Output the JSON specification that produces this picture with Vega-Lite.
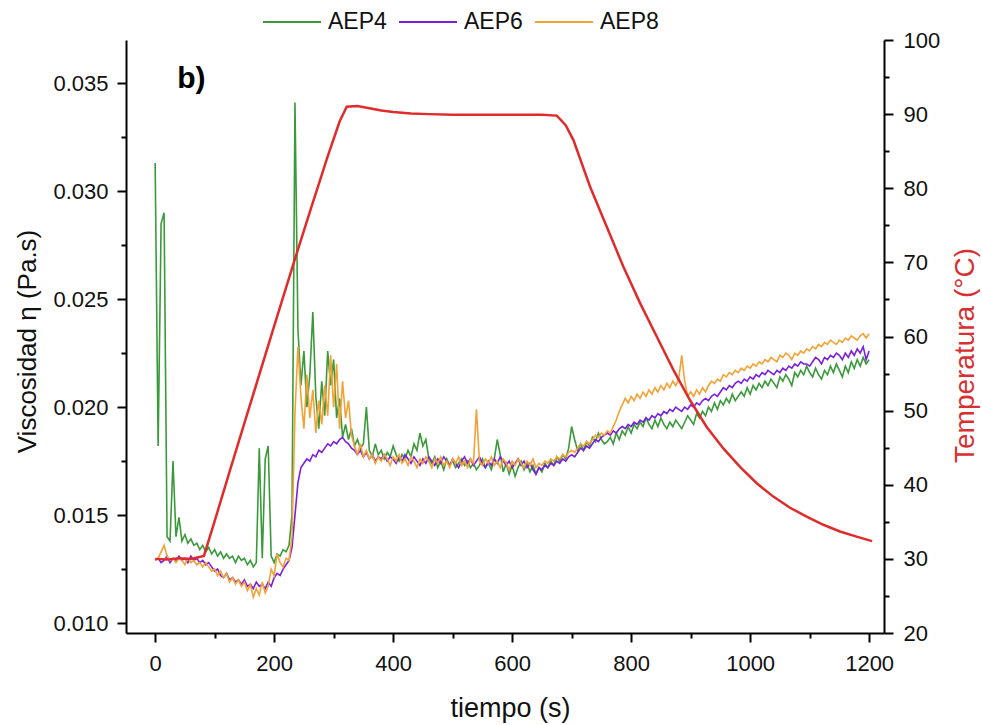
{
  "$schema": "https://vega.github.io/schema/vega-lite/v6.json",
  "width": 758,
  "height": 593,
  "autosize": {"type": "none"},
  "padding": {"left": 126, "top": 40, "right": 98, "bottom": 92},
  "background": "white",
  "config": {
    "font": "Liberation Sans",
    "view": {"stroke": null},
    "axis": {"domainColor": "#000", "domainWidth": 2, "tickColor": "#000", "tickWidth": 2, "labelColor": "#111", "labelFontSize": 22, "titleColor": "#111", "titleFontWeight": "normal", "grid": false, "labelOverlap": false}
  },
  "datasets": {
    "visc": [
      {"t":0,"AEP4":0.0313,"AEP6":0.0129,"AEP8":0.0129},
      {"t":5,"AEP4":0.0182,"AEP6":0.0130,"AEP8":0.0130},
      {"t":10,"AEP4":0.0285,"AEP6":0.0128,"AEP8":0.0133},
      {"t":15,"AEP4":0.0290,"AEP6":0.0129,"AEP8":0.0136},
      {"t":20,"AEP4":0.0140,"AEP6":0.0131,"AEP8":0.0131},
      {"t":25,"AEP4":0.0138,"AEP6":0.0128,"AEP8":0.0129},
      {"t":30,"AEP4":0.0175,"AEP6":0.0130,"AEP8":0.0130},
      {"t":35,"AEP4":0.0140,"AEP6":0.0129,"AEP8":0.0128},
      {"t":40,"AEP4":0.0149,"AEP6":0.0131,"AEP8":0.0130},
      {"t":45,"AEP4":0.0138,"AEP6":0.0129,"AEP8":0.0129},
      {"t":50,"AEP4":0.0141,"AEP6":0.0130,"AEP8":0.0127},
      {"t":55,"AEP4":0.0137,"AEP6":0.0128,"AEP8":0.0130},
      {"t":60,"AEP4":0.0139,"AEP6":0.0131,"AEP8":0.0128},
      {"t":65,"AEP4":0.0136,"AEP6":0.0129,"AEP8":0.0129},
      {"t":70,"AEP4":0.0137,"AEP6":0.0130,"AEP8":0.0127},
      {"t":75,"AEP4":0.0134,"AEP6":0.0128,"AEP8":0.0128},
      {"t":80,"AEP4":0.0136,"AEP6":0.0129,"AEP8":0.0126},
      {"t":85,"AEP4":0.0133,"AEP6":0.0127,"AEP8":0.0128},
      {"t":90,"AEP4":0.0135,"AEP6":0.0128,"AEP8":0.0126},
      {"t":95,"AEP4":0.0132,"AEP6":0.0126,"AEP8":0.0124},
      {"t":100,"AEP4":0.0134,"AEP6":0.0124,"AEP8":0.0125},
      {"t":105,"AEP4":0.0131,"AEP6":0.0125,"AEP8":0.0122},
      {"t":110,"AEP4":0.0133,"AEP6":0.0122,"AEP8":0.0124},
      {"t":115,"AEP4":0.0130,"AEP6":0.0121,"AEP8":0.0121},
      {"t":120,"AEP4":0.0132,"AEP6":0.0123,"AEP8":0.0123},
      {"t":125,"AEP4":0.0130,"AEP6":0.0120,"AEP8":0.0119},
      {"t":130,"AEP4":0.0131,"AEP6":0.0121,"AEP8":0.0121},
      {"t":135,"AEP4":0.0128,"AEP6":0.0119,"AEP8":0.0118},
      {"t":140,"AEP4":0.0131,"AEP6":0.0120,"AEP8":0.0120},
      {"t":145,"AEP4":0.0129,"AEP6":0.0118,"AEP8":0.0117},
      {"t":150,"AEP4":0.0130,"AEP6":0.0120,"AEP8":0.0119},
      {"t":155,"AEP4":0.0127,"AEP6":0.0117,"AEP8":0.0115},
      {"t":160,"AEP4":0.0129,"AEP6":0.0118,"AEP8":0.0118},
      {"t":165,"AEP4":0.0126,"AEP6":0.0116,"AEP8":0.0112},
      {"t":170,"AEP4":0.0128,"AEP6":0.0119,"AEP8":0.0116},
      {"t":175,"AEP4":0.0181,"AEP6":0.0117,"AEP8":0.0113},
      {"t":180,"AEP4":0.0130,"AEP6":0.0118,"AEP8":0.0119},
      {"t":185,"AEP4":0.0176,"AEP6":0.0116,"AEP8":0.0114},
      {"t":190,"AEP4":0.0182,"AEP6":0.0119,"AEP8":0.0117},
      {"t":195,"AEP4":0.0131,"AEP6":0.0117,"AEP8":0.0125},
      {"t":200,"AEP4":0.0128,"AEP6":0.0121,"AEP8":0.0122},
      {"t":205,"AEP4":0.0132,"AEP6":0.0123,"AEP8":0.0132},
      {"t":210,"AEP4":0.0131,"AEP6":0.0122,"AEP8":0.0128},
      {"t":215,"AEP4":0.0134,"AEP6":0.0125,"AEP8":0.0126},
      {"t":220,"AEP4":0.0133,"AEP6":0.0127,"AEP8":0.0130},
      {"t":225,"AEP4":0.0136,"AEP6":0.0129,"AEP8":0.0129},
      {"t":230,"AEP4":0.0150,"AEP6":0.0135,"AEP8":0.0140},
      {"t":235,"AEP4":0.0341,"AEP6":0.0150,"AEP8":0.0197},
      {"t":240,"AEP4":0.0236,"AEP6":0.0165,"AEP8":0.0228},
      {"t":245,"AEP4":0.0210,"AEP6":0.0172,"AEP8":0.0205},
      {"t":250,"AEP4":0.0226,"AEP6":0.0174,"AEP8":0.0190},
      {"t":255,"AEP4":0.0200,"AEP6":0.0176,"AEP8":0.0215},
      {"t":260,"AEP4":0.0215,"AEP6":0.0175,"AEP8":0.0195},
      {"t":265,"AEP4":0.0244,"AEP6":0.0178,"AEP8":0.0208},
      {"t":270,"AEP4":0.0205,"AEP6":0.0177,"AEP8":0.0188},
      {"t":275,"AEP4":0.0190,"AEP6":0.0180,"AEP8":0.0203},
      {"t":280,"AEP4":0.0212,"AEP6":0.0179,"AEP8":0.0192},
      {"t":285,"AEP4":0.0196,"AEP6":0.0181,"AEP8":0.0210},
      {"t":290,"AEP4":0.0226,"AEP6":0.0183,"AEP8":0.0196},
      {"t":295,"AEP4":0.0210,"AEP6":0.0182,"AEP8":0.0224},
      {"t":300,"AEP4":0.0222,"AEP6":0.0184,"AEP8":0.0200},
      {"t":305,"AEP4":0.0195,"AEP6":0.0183,"AEP8":0.0220},
      {"t":310,"AEP4":0.0204,"AEP6":0.0185,"AEP8":0.0190},
      {"t":315,"AEP4":0.0186,"AEP6":0.0186,"AEP8":0.0212},
      {"t":320,"AEP4":0.0192,"AEP6":0.0184,"AEP8":0.0195},
      {"t":325,"AEP4":0.0185,"AEP6":0.0183,"AEP8":0.0203},
      {"t":330,"AEP4":0.0190,"AEP6":0.0181,"AEP8":0.0187},
      {"t":335,"AEP4":0.0182,"AEP6":0.0180,"AEP8":0.0182},
      {"t":340,"AEP4":0.0185,"AEP6":0.0178,"AEP8":0.0178},
      {"t":345,"AEP4":0.0181,"AEP6":0.0180,"AEP8":0.0183},
      {"t":350,"AEP4":0.0183,"AEP6":0.0177,"AEP8":0.0177},
      {"t":355,"AEP4":0.0200,"AEP6":0.0179,"AEP8":0.0180},
      {"t":360,"AEP4":0.0180,"AEP6":0.0176,"AEP8":0.0176},
      {"t":365,"AEP4":0.0177,"AEP6":0.0178,"AEP8":0.0178},
      {"t":370,"AEP4":0.0183,"AEP6":0.0175,"AEP8":0.0174},
      {"t":375,"AEP4":0.0178,"AEP6":0.0177,"AEP8":0.0177},
      {"t":380,"AEP4":0.0180,"AEP6":0.0176,"AEP8":0.0175},
      {"t":385,"AEP4":0.0176,"AEP6":0.0178,"AEP8":0.0178},
      {"t":390,"AEP4":0.0179,"AEP6":0.0175,"AEP8":0.0176},
      {"t":395,"AEP4":0.0177,"AEP6":0.0177,"AEP8":0.0173},
      {"t":400,"AEP4":0.0182,"AEP6":0.0176,"AEP8":0.0177},
      {"t":405,"AEP4":0.0178,"AEP6":0.0174,"AEP8":0.0175},
      {"t":410,"AEP4":0.0175,"AEP6":0.0177,"AEP8":0.0178},
      {"t":415,"AEP4":0.0178,"AEP6":0.0175,"AEP8":0.0174},
      {"t":420,"AEP4":0.0176,"AEP6":0.0178,"AEP8":0.0176},
      {"t":425,"AEP4":0.0180,"AEP6":0.0176,"AEP8":0.0173},
      {"t":430,"AEP4":0.0177,"AEP6":0.0174,"AEP8":0.0177},
      {"t":435,"AEP4":0.0183,"AEP6":0.0177,"AEP8":0.0175},
      {"t":440,"AEP4":0.0180,"AEP6":0.0175,"AEP8":0.0172},
      {"t":445,"AEP4":0.0188,"AEP6":0.0173,"AEP8":0.0176},
      {"t":450,"AEP4":0.0182,"AEP6":0.0176,"AEP8":0.0174},
      {"t":455,"AEP4":0.0185,"AEP6":0.0174,"AEP8":0.0177},
      {"t":460,"AEP4":0.0176,"AEP6":0.0177,"AEP8":0.0175},
      {"t":465,"AEP4":0.0174,"AEP6":0.0175,"AEP8":0.0172},
      {"t":470,"AEP4":0.0177,"AEP6":0.0173,"AEP8":0.0176},
      {"t":475,"AEP4":0.0172,"AEP6":0.0176,"AEP8":0.0174},
      {"t":480,"AEP4":0.0175,"AEP6":0.0174,"AEP8":0.0177},
      {"t":485,"AEP4":0.0171,"AEP6":0.0177,"AEP8":0.0173},
      {"t":490,"AEP4":0.0176,"AEP6":0.0175,"AEP8":0.0175},
      {"t":495,"AEP4":0.0173,"AEP6":0.0173,"AEP8":0.0172},
      {"t":500,"AEP4":0.0175,"AEP6":0.0176,"AEP8":0.0176},
      {"t":505,"AEP4":0.0172,"AEP6":0.0174,"AEP8":0.0174},
      {"t":510,"AEP4":0.0174,"AEP6":0.0172,"AEP8":0.0177},
      {"t":515,"AEP4":0.0176,"AEP6":0.0175,"AEP8":0.0173},
      {"t":520,"AEP4":0.0173,"AEP6":0.0177,"AEP8":0.0175},
      {"t":525,"AEP4":0.0175,"AEP6":0.0174,"AEP8":0.0172},
      {"t":530,"AEP4":0.0172,"AEP6":0.0176,"AEP8":0.0176},
      {"t":535,"AEP4":0.0174,"AEP6":0.0173,"AEP8":0.0174},
      {"t":540,"AEP4":0.0171,"AEP6":0.0175,"AEP8":0.0199},
      {"t":545,"AEP4":0.0173,"AEP6":0.0177,"AEP8":0.0175},
      {"t":550,"AEP4":0.0176,"AEP6":0.0174,"AEP8":0.0173},
      {"t":555,"AEP4":0.0172,"AEP6":0.0172,"AEP8":0.0176},
      {"t":560,"AEP4":0.0174,"AEP6":0.0175,"AEP8":0.0174},
      {"t":565,"AEP4":0.0171,"AEP6":0.0173,"AEP8":0.0177},
      {"t":570,"AEP4":0.0176,"AEP6":0.0176,"AEP8":0.0173},
      {"t":575,"AEP4":0.0185,"AEP6":0.0174,"AEP8":0.0175},
      {"t":580,"AEP4":0.0178,"AEP6":0.0177,"AEP8":0.0172},
      {"t":585,"AEP4":0.0170,"AEP6":0.0175,"AEP8":0.0176},
      {"t":590,"AEP4":0.0174,"AEP6":0.0173,"AEP8":0.0174},
      {"t":595,"AEP4":0.0169,"AEP6":0.0175,"AEP8":0.0171},
      {"t":600,"AEP4":0.0173,"AEP6":0.0172,"AEP8":0.0175},
      {"t":605,"AEP4":0.0168,"AEP6":0.0174,"AEP8":0.0173},
      {"t":610,"AEP4":0.0172,"AEP6":0.0176,"AEP8":0.0176},
      {"t":615,"AEP4":0.0175,"AEP6":0.0173,"AEP8":0.0174},
      {"t":620,"AEP4":0.0171,"AEP6":0.0175,"AEP8":0.0172},
      {"t":625,"AEP4":0.0174,"AEP6":0.0172,"AEP8":0.0175},
      {"t":630,"AEP4":0.0170,"AEP6":0.0174,"AEP8":0.0173},
      {"t":635,"AEP4":0.0173,"AEP6":0.0171,"AEP8":0.0176},
      {"t":640,"AEP4":0.0169,"AEP6":0.0169,"AEP8":0.0172},
      {"t":645,"AEP4":0.0172,"AEP6":0.0172,"AEP8":0.0174},
      {"t":650,"AEP4":0.0170,"AEP6":0.0171,"AEP8":0.0173},
      {"t":655,"AEP4":0.0174,"AEP6":0.0173,"AEP8":0.0175},
      {"t":660,"AEP4":0.0172,"AEP6":0.0172,"AEP8":0.0174},
      {"t":665,"AEP4":0.0175,"AEP6":0.0174,"AEP8":0.0176},
      {"t":670,"AEP4":0.0173,"AEP6":0.0173,"AEP8":0.0175},
      {"t":675,"AEP4":0.0177,"AEP6":0.0175,"AEP8":0.0177},
      {"t":680,"AEP4":0.0175,"AEP6":0.0174,"AEP8":0.0176},
      {"t":685,"AEP4":0.0178,"AEP6":0.0176,"AEP8":0.0178},
      {"t":690,"AEP4":0.0176,"AEP6":0.0175,"AEP8":0.0177},
      {"t":695,"AEP4":0.0181,"AEP6":0.0177,"AEP8":0.0179},
      {"t":700,"AEP4":0.0191,"AEP6":0.0178,"AEP8":0.0180},
      {"t":705,"AEP4":0.0185,"AEP6":0.0177,"AEP8":0.0179},
      {"t":710,"AEP4":0.0180,"AEP6":0.0179,"AEP8":0.0181},
      {"t":715,"AEP4":0.0183,"AEP6":0.0181,"AEP8":0.0183},
      {"t":720,"AEP4":0.0180,"AEP6":0.0180,"AEP8":0.0182},
      {"t":725,"AEP4":0.0184,"AEP6":0.0182,"AEP8":0.0184},
      {"t":730,"AEP4":0.0182,"AEP6":0.0181,"AEP8":0.0183},
      {"t":735,"AEP4":0.0186,"AEP6":0.0183,"AEP8":0.0185},
      {"t":740,"AEP4":0.0184,"AEP6":0.0185,"AEP8":0.0187},
      {"t":745,"AEP4":0.0188,"AEP6":0.0184,"AEP8":0.0186},
      {"t":750,"AEP4":0.0185,"AEP6":0.0186,"AEP8":0.0188},
      {"t":755,"AEP4":0.0183,"AEP6":0.0187,"AEP8":0.0187},
      {"t":760,"AEP4":0.0184,"AEP6":0.0188,"AEP8":0.0189},
      {"t":765,"AEP4":0.0186,"AEP6":0.0187,"AEP8":0.0188},
      {"t":770,"AEP4":0.0183,"AEP6":0.0189,"AEP8":0.0191},
      {"t":775,"AEP4":0.0188,"AEP6":0.0188,"AEP8":0.0194},
      {"t":780,"AEP4":0.0185,"AEP6":0.0190,"AEP8":0.0198},
      {"t":785,"AEP4":0.0189,"AEP6":0.0191,"AEP8":0.0201},
      {"t":790,"AEP4":0.0187,"AEP6":0.0190,"AEP8":0.0204},
      {"t":795,"AEP4":0.0191,"AEP6":0.0192,"AEP8":0.0202},
      {"t":800,"AEP4":0.0188,"AEP6":0.0191,"AEP8":0.0205},
      {"t":805,"AEP4":0.0192,"AEP6":0.0193,"AEP8":0.0203},
      {"t":810,"AEP4":0.0190,"AEP6":0.0192,"AEP8":0.0206},
      {"t":815,"AEP4":0.0193,"AEP6":0.0194,"AEP8":0.0204},
      {"t":820,"AEP4":0.0191,"AEP6":0.0193,"AEP8":0.0207},
      {"t":825,"AEP4":0.0195,"AEP6":0.0195,"AEP8":0.0205},
      {"t":830,"AEP4":0.0192,"AEP6":0.0194,"AEP8":0.0208},
      {"t":835,"AEP4":0.0190,"AEP6":0.0196,"AEP8":0.0206},
      {"t":840,"AEP4":0.0194,"AEP6":0.0195,"AEP8":0.0209},
      {"t":845,"AEP4":0.0191,"AEP6":0.0197,"AEP8":0.0207},
      {"t":850,"AEP4":0.0195,"AEP6":0.0196,"AEP8":0.0210},
      {"t":855,"AEP4":0.0192,"AEP6":0.0198,"AEP8":0.0208},
      {"t":860,"AEP4":0.0190,"AEP6":0.0197,"AEP8":0.0211},
      {"t":865,"AEP4":0.0193,"AEP6":0.0199,"AEP8":0.0209},
      {"t":870,"AEP4":0.0191,"AEP6":0.0198,"AEP8":0.0212},
      {"t":875,"AEP4":0.0194,"AEP6":0.0200,"AEP8":0.0210},
      {"t":880,"AEP4":0.0192,"AEP6":0.0199,"AEP8":0.0213},
      {"t":885,"AEP4":0.0190,"AEP6":0.0198,"AEP8":0.0224},
      {"t":890,"AEP4":0.0193,"AEP6":0.0200,"AEP8":0.0212},
      {"t":895,"AEP4":0.0196,"AEP6":0.0199,"AEP8":0.0205},
      {"t":900,"AEP4":0.0194,"AEP6":0.0201,"AEP8":0.0207},
      {"t":905,"AEP4":0.0192,"AEP6":0.0200,"AEP8":0.0205},
      {"t":910,"AEP4":0.0197,"AEP6":0.0202,"AEP8":0.0208},
      {"t":915,"AEP4":0.0195,"AEP6":0.0201,"AEP8":0.0206},
      {"t":920,"AEP4":0.0198,"AEP6":0.0203,"AEP8":0.0209},
      {"t":925,"AEP4":0.0196,"AEP6":0.0204,"AEP8":0.0207},
      {"t":930,"AEP4":0.0200,"AEP6":0.0203,"AEP8":0.0210},
      {"t":935,"AEP4":0.0198,"AEP6":0.0205,"AEP8":0.0212},
      {"t":940,"AEP4":0.0202,"AEP6":0.0206,"AEP8":0.0211},
      {"t":945,"AEP4":0.0199,"AEP6":0.0205,"AEP8":0.0213},
      {"t":950,"AEP4":0.0203,"AEP6":0.0207,"AEP8":0.0212},
      {"t":955,"AEP4":0.0201,"AEP6":0.0209,"AEP8":0.0215},
      {"t":960,"AEP4":0.0204,"AEP6":0.0208,"AEP8":0.0214},
      {"t":965,"AEP4":0.0202,"AEP6":0.0210,"AEP8":0.0216},
      {"t":970,"AEP4":0.0206,"AEP6":0.0209,"AEP8":0.0215},
      {"t":975,"AEP4":0.0203,"AEP6":0.0211,"AEP8":0.0217},
      {"t":980,"AEP4":0.0205,"AEP6":0.0212,"AEP8":0.0216},
      {"t":985,"AEP4":0.0207,"AEP6":0.0211,"AEP8":0.0218},
      {"t":990,"AEP4":0.0205,"AEP6":0.0213,"AEP8":0.0217},
      {"t":995,"AEP4":0.0209,"AEP6":0.0212,"AEP8":0.0219},
      {"t":1000,"AEP4":0.0206,"AEP6":0.0214,"AEP8":0.0218},
      {"t":1005,"AEP4":0.0210,"AEP6":0.0213,"AEP8":0.0220},
      {"t":1010,"AEP4":0.0208,"AEP6":0.0215,"AEP8":0.0219},
      {"t":1015,"AEP4":0.0211,"AEP6":0.0214,"AEP8":0.0221},
      {"t":1020,"AEP4":0.0209,"AEP6":0.0216,"AEP8":0.0220},
      {"t":1025,"AEP4":0.0212,"AEP6":0.0215,"AEP8":0.0222},
      {"t":1030,"AEP4":0.0210,"AEP6":0.0217,"AEP8":0.0221},
      {"t":1035,"AEP4":0.0213,"AEP6":0.0216,"AEP8":0.0223},
      {"t":1040,"AEP4":0.0211,"AEP6":0.0215,"AEP8":0.0222},
      {"t":1045,"AEP4":0.0209,"AEP6":0.0217,"AEP8":0.0221},
      {"t":1050,"AEP4":0.0214,"AEP6":0.0216,"AEP8":0.0224},
      {"t":1055,"AEP4":0.0212,"AEP6":0.0218,"AEP8":0.0223},
      {"t":1060,"AEP4":0.0215,"AEP6":0.0217,"AEP8":0.0225},
      {"t":1065,"AEP4":0.0213,"AEP6":0.0219,"AEP8":0.0224},
      {"t":1070,"AEP4":0.0210,"AEP6":0.0218,"AEP8":0.0222},
      {"t":1075,"AEP4":0.0216,"AEP6":0.0220,"AEP8":0.0225},
      {"t":1080,"AEP4":0.0214,"AEP6":0.0219,"AEP8":0.0224},
      {"t":1085,"AEP4":0.0217,"AEP6":0.0221,"AEP8":0.0226},
      {"t":1090,"AEP4":0.0215,"AEP6":0.0220,"AEP8":0.0225},
      {"t":1095,"AEP4":0.0219,"AEP6":0.0220,"AEP8":0.0227},
      {"t":1100,"AEP4":0.0216,"AEP6":0.0219,"AEP8":0.0226},
      {"t":1105,"AEP4":0.0214,"AEP6":0.0221,"AEP8":0.0228},
      {"t":1110,"AEP4":0.0218,"AEP6":0.0223,"AEP8":0.0227},
      {"t":1115,"AEP4":0.0215,"AEP6":0.0222,"AEP8":0.0229},
      {"t":1120,"AEP4":0.0213,"AEP6":0.0220,"AEP8":0.0228},
      {"t":1125,"AEP4":0.0217,"AEP6":0.0223,"AEP8":0.0230},
      {"t":1130,"AEP4":0.0215,"AEP6":0.0222,"AEP8":0.0229},
      {"t":1135,"AEP4":0.0219,"AEP6":0.0224,"AEP8":0.0231},
      {"t":1140,"AEP4":0.0216,"AEP6":0.0223,"AEP8":0.0230},
      {"t":1145,"AEP4":0.0220,"AEP6":0.0225,"AEP8":0.0229},
      {"t":1150,"AEP4":0.0217,"AEP6":0.0224,"AEP8":0.0231},
      {"t":1155,"AEP4":0.0214,"AEP6":0.0222,"AEP8":0.0230},
      {"t":1160,"AEP4":0.0219,"AEP6":0.0225,"AEP8":0.0232},
      {"t":1165,"AEP4":0.0216,"AEP6":0.0223,"AEP8":0.0231},
      {"t":1170,"AEP4":0.0221,"AEP6":0.0226,"AEP8":0.0233},
      {"t":1175,"AEP4":0.0218,"AEP6":0.0224,"AEP8":0.0232},
      {"t":1180,"AEP4":0.0222,"AEP6":0.0227,"AEP8":0.0231},
      {"t":1185,"AEP4":0.0219,"AEP6":0.0225,"AEP8":0.0233},
      {"t":1190,"AEP4":0.0223,"AEP6":0.0228,"AEP8":0.0234},
      {"t":1195,"AEP4":0.0220,"AEP6":0.0222,"AEP8":0.0232},
      {"t":1200,"AEP4":0.0222,"AEP6":0.0226,"AEP8":0.0234}
    ],
    "temp": [
      {"t":0,"T":30.0},{"t":20,"T":29.9},{"t":40,"T":30.1},{"t":60,"T":30.0},{"t":82,"T":30.4},
      {"t":100,"T":35.1},{"t":126,"T":42.0},{"t":150,"T":48.3},{"t":200,"T":61.4},{"t":232,"T":69.7},
      {"t":260,"T":76.8},{"t":290,"T":84.3},{"t":310,"T":89.0},{"t":322,"T":91.0},{"t":340,"T":91.1},
      {"t":360,"T":90.8},{"t":380,"T":90.5},{"t":400,"T":90.3},{"t":430,"T":90.1},{"t":460,"T":90.0},
      {"t":500,"T":89.9},{"t":550,"T":89.9},{"t":600,"T":89.9},{"t":650,"T":89.9},{"t":675,"T":89.8},
      {"t":690,"T":88.5},{"t":703,"T":86.5},{"t":731,"T":80.2},{"t":759,"T":74.8},{"t":787,"T":69.4},
      {"t":815,"T":64.5},{"t":843,"T":60.0},{"t":871,"T":55.5},{"t":899,"T":51.4},{"t":927,"T":47.8},
      {"t":955,"T":44.9},{"t":983,"T":42.4},{"t":1011,"T":40.2},{"t":1039,"T":38.4},{"t":1067,"T":36.9},
      {"t":1095,"T":35.7},{"t":1123,"T":34.6},{"t":1151,"T":33.7},{"t":1179,"T":33.0},{"t":1205,"T":32.4}
    ],
    "note": [{"t":37,"v":0.0348,"label":"b)"}]
  },
  "encoding": {
    "x": {
      "field": "t", "type": "quantitative",
      "scale": {"domain": [-49, 1225], "nice": false, "zero": false},
      "axis": {
        "title": "tiempo (s)",
        "format": "d",
        "values": [0,100,200,300,400,500,600,700,800,900,1000,1100,1200],
        "labelExpr": "datum.value % 200 === 0 ? datum.label : ''",
        "tickSize": {"condition": {"test": "datum.value % 200 === 0", "value": 9}, "value": 5},
        "labelPadding": 11,
        "titleFontSize": 27,
        "titleX": 384, "titleY": 83, "titleBaseline": "alphabetic", "titleAlign": "center", "titleAnchor": null
      }
    }
  },
  "layer": [
    {
      "layer": [
        {
          "data": {"name": "visc"},
          "transform": [{"fold": ["AEP4", "AEP6", "AEP8"], "as": ["serie", "v"]}],
          "mark": {"type": "line", "strokeWidth": 1.6},
          "encoding": {
            "y": {
              "field": "v", "type": "quantitative",
              "scale": {"domain": [0.00954, 0.037], "nice": false, "zero": false},
              "axis": {
                "title": "Viscosidad η (Pa.s)",
                "values": [0.01,0.0125,0.015,0.0175,0.02,0.0225,0.025,0.0275,0.03,0.0325,0.035],
                "format": ".3f",
                "labelExpr": "round(datum.value*400) % 2 === 0 ? datum.label : ''",
                "tickSize": {"condition": {"test": "round(datum.value*400) % 2 === 0", "value": 9}, "value": 5},
                "labelPadding": 9,
                "titleFontSize": 26,
                "titleAngle": 270,
                "titleX": -91, "titleY": 301, "titleBaseline": "alphabetic", "titleAlign": "center", "titleAnchor": null
              }
            },
            "color": {
              "field": "serie", "type": "nominal",
              "scale": {"domain": ["AEP4", "AEP6", "AEP8"], "range": ["#3a9a3a", "#7a1fe0", "#f4a236"]},
              "legend": {
                "title": null, "orient": "none", "direction": "horizontal",
                "legendX": 136, "legendY": -48,
                "symbolType": "stroke", "symbolSize": 3364, "symbolStrokeWidth": 2,
                "labelFontSize": 23, "labelColor": "#111", "labelOffset": 6, "columnPadding": 8, "padding": 0
              }
            }
          }
        },
        {
          "data": {"name": "note"},
          "mark": {"type": "text", "align": "left", "baseline": "alphabetic", "fontSize": 30, "fontWeight": "bold", "color": "#000"},
          "encoding": {
            "y": {"field": "v", "type": "quantitative"},
            "text": {"field": "label"}
          }
        }
      ]
    },
    {
      "data": {"name": "temp"},
      "mark": {"type": "line", "color": "#e02b2b", "strokeWidth": 2.5},
      "encoding": {
        "y": {
          "field": "T", "type": "quantitative",
          "scale": {"domain": [20, 100], "nice": false, "zero": false},
          "axis": {
            "orient": "right",
            "title": "Temperatura (°C)",
            "titleColor": "#d83030",
            "values": [20,25,30,35,40,45,50,55,60,65,70,75,80,85,90,95,100],
            "labelExpr": "datum.value % 10 === 0 ? datum.label : ''",
            "tickSize": {"condition": {"test": "datum.value % 10 === 0", "value": 9}, "value": 5},
            "labelPadding": 10,
            "titleFontSize": 28,
            "titleAngle": 270,
            "titleX": 89, "titleY": 315, "titleBaseline": "alphabetic", "titleAlign": "center", "titleAnchor": null
          }
        }
      }
    }
  ],
  "resolve": {"scale": {"y": "independent"}}
}
